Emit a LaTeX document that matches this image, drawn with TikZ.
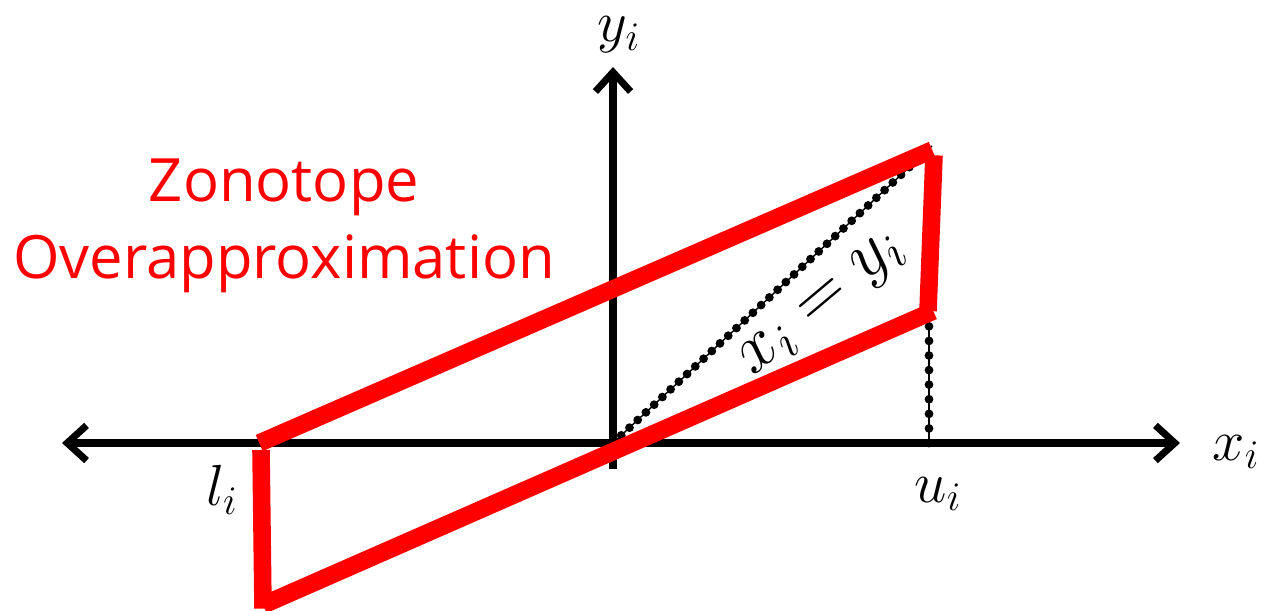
\RequirePackage{fix-cm}
\documentclass[tikz,border=0pt]{standalone}
\usepackage{amsmath}
\usepackage{fontspec}
\newfontfamily\zonofont{Open Sans}
\usetikzlibrary{arrows.meta, positioning}
\definecolor{zonocolor}{RGB}{255,0,0}
\tikzset{
  axis/.style={line width=4pt, draw=black,
               arrows={-Straight Barb[length=11pt, width=20pt]}},
  daxis/.style={line width=4pt, draw=black,
                arrows={Straight Barb[length=11pt, width=20pt]-Straight Barb[length=11pt, width=20pt]}},
  zonoedge/.style={line width=10pt, draw=zonocolor},
  guide/.style={line width=0.8pt, draw=black},
  dots/.style={line width=5pt, draw=black, line cap=round,
               dash pattern=on 0pt off #1},
  dots/.default=6.5pt,
  mathlabel/.style={font=\fontsize{33}{40}\selectfont, inner sep=0pt},
  zonotext/.style={font=\zonofont\fontsize{34}{44}\selectfont,
                   text=zonocolor, align=center, inner sep=0pt},
}

\begin{document}
\begin{tikzpicture}[x=0.02cm, y=-0.02cm]
  \useasboundingbox (0,0) rectangle (1264,611);

  % --- Axes ---
  \coordinate (origin) at (613,443);
  \coordinate (xleft)  at (62,443);
  \coordinate (xright) at (1180,443);
  \coordinate (ybot)   at (613,469);
  \coordinate (ytop)   at (613,67);
  \draw[daxis] (xleft) -- (xright);
  \draw[axis] (ybot) -- (ytop);

  % --- Zonotope corners ---
  \coordinate (lowtop) at (261,443);
  \coordinate (lowbot) at (263,605);
  \coordinate (uptop)  at (934,150);
  \coordinate (upbot)  at (928,311);

  % --- Identity line and bound ---
  \coordinate (diagend) at (932,146);
  \coordinate (ufoot)   at (929,443);
  \coordinate (uhead)   at (929,312);
  \draw[guide] (origin) -- (diagend);
  \draw[dots=6.4pt] (origin) -- (diagend);
  \draw[guide] (ufoot) -- (uhead);
  \draw[dots=8.3pt] (ufoot) -- (uhead);

  % --- Zonotope ---
  \draw[zonoedge] ([xshift=-1pt]lowtop) -- ([xshift=-1pt]uptop);
  \draw[zonoedge] ([yshift=-3pt]uptop) -- (upbot);
  \draw[zonoedge] ([xshift=3pt]upbot) -- (lowbot);
  \draw[zonoedge] ([yshift=-4pt]lowtop) -- ([yshift=-2pt]lowbot);

  % --- Labels ---
  \node[mathlabel] (ylab) at (619,35) {$y_i$};
  \node[mathlabel] (xlab) at (1236,452) {$x_i$};
  \node[mathlabel] (llab) at (222,490) {$l_i$};
  \node[mathlabel] (ulab) at (938,494) {$u_i$};
  \node[mathlabel, font=\fontsize{40}{48}\selectfont, rotate=40]
    (diaglab) at (824,307) {$x_i = y_i$};
  \node[zonotext] (title) at (284,226) {Zonotope\\Overapproximation};

\end{tikzpicture}
\end{document}
